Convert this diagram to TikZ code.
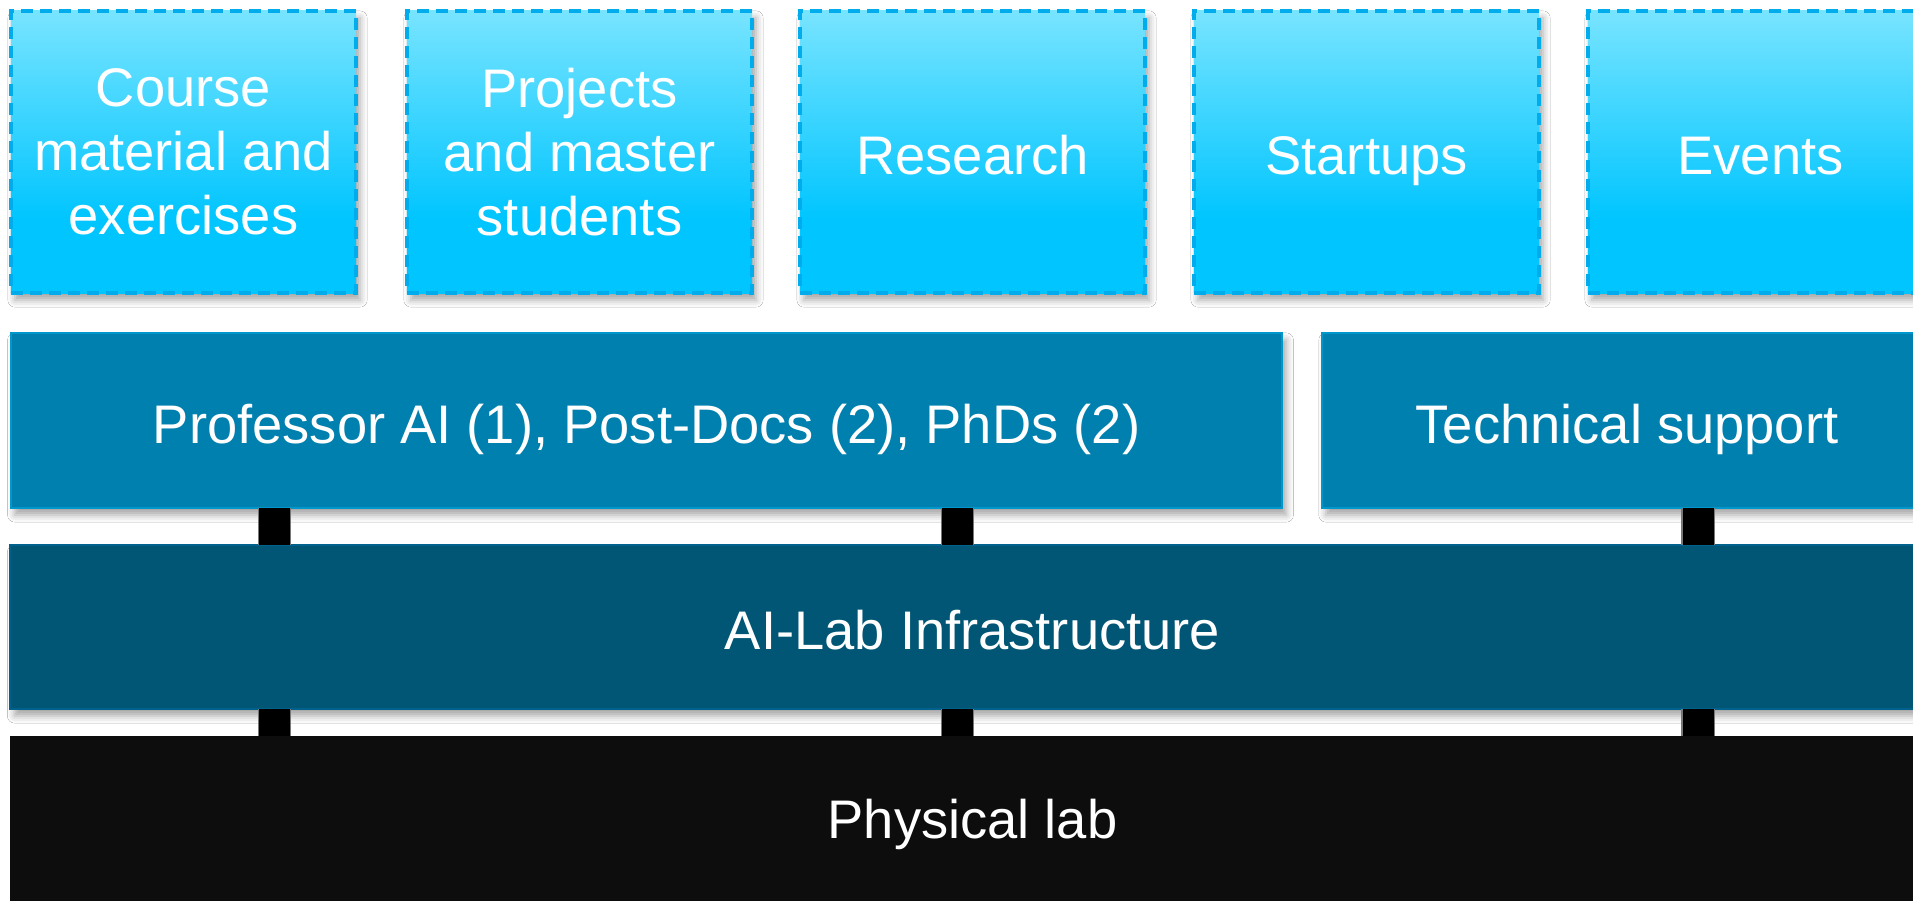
\documentclass[tikz,border=0pt]{standalone}
\usepackage{fontspec}
\setmainfont{Liberation Sans}
\usetikzlibrary{shadows.blur}
\definecolor{boxtop}{RGB}{120,228,255}
\definecolor{boxbot}{RGB}{0,197,255}
\definecolor{boxedge}{RGB}{0,172,236}
\definecolor{staff}{RGB}{0,128,174}
\definecolor{staffedge}{RGB}{0,152,204}
\definecolor{infra}{RGB}{0,86,116}
\definecolor{infraedge}{RGB}{0,98,140}
\definecolor{phys}{RGB}{13,13,13}
\definecolor{connedge}{RGB}{120,120,120}
\pgfdeclareverticalshading{topshade}{100bp}{color(0bp)=(boxbot); color(25bp)=(boxbot); color(38bp)=(boxbot); color(75bp)=(boxtop); color(100bp)=(boxtop)}
\tikzset{
  basebox/.style={rectangle, inner sep=0pt, outer sep=0pt, text=white, align=center,
    font=\fontsize{15.45}{18.2}\selectfont},
  oneline/.style={text height=16pt, text depth=3pt},
  softshadow/.style={blur shadow={shadow xshift=0.04cm, shadow yshift=-0.07cm, shadow blur radius=0.07cm, shadow opacity=35}},
  topbox/.style={basebox, minimum width=3.45cm, minimum height=2.82cm,
    shading=topshade, draw=boxedge, line width=0.035cm, dash pattern=on 0.12cm off 0.07cm, softshadow},
  staffbox/.style={basebox, oneline, minimum height=1.75cm, fill=staff, draw=staffedge, line width=0.02cm, softshadow},
  infrabox/.style={basebox, oneline, minimum width=19.23cm, minimum height=1.64cm, fill=infra, draw=infraedge, line width=0.02cm, softshadow},
  physbox/.style={basebox, text height=16pt, text depth=8.7pt, minimum width=19.23cm, minimum height=1.80cm, fill=phys},
  conn/.style={draw=connedge, line width=0.012cm, double=black, double distance=0.31cm, line cap=butt}
}
\begin{document}
\begin{tikzpicture}[x=0.01cm, y=-0.01cm]
\useasboundingbox (0,0) rectangle (1913,900);
\clip (0,0) rectangle (1913,900);
\fill[white] (0,0) rectangle (1913,900);
% top row
\node[topbox] (course) at (183.5,152) {Course\\material and\\exercises};
\node[topbox] (projects) at (579.5,152) {Projects\\and master\\students};
\node[topbox, oneline] (research) at (972.5,152) {Research};
\node[topbox, oneline] (startups) at (1366.5,152) {Startups};
\node[topbox, oneline] (events) at (1760.5,152) {Events};
% staff row
\node[staffbox, minimum width=12.71cm] (prof) at (646.5,420.5) {Professor AI (1), Post-Docs (2), PhDs (2)};
\node[staffbox, minimum width=6.10cm] (tech) at (1627,420.5) {Technical support};
% infrastructure
\node[infrabox] (ai) at (972.5,627) {AI-Lab Infrastructure};
\node[physbox] (phys) at (972.5,826) {Physical lab};
% connector columns
\coordinate (c1) at (274.5,0);
\coordinate (c2) at (957.5,0);
\coordinate (c3) at (1698,0);
\draw[conn] (prof.south -| c1) -- (ai.north -| c1);
\draw[conn] (prof.south -| c2) -- (ai.north -| c2);
\draw[conn] (tech.south -| c3) -- (ai.north -| c3);
\draw[conn] (ai.south -| c1) -- (phys.north -| c1);
\draw[conn] (ai.south -| c2) -- (phys.north -| c2);
\draw[conn] (ai.south -| c3) -- (phys.north -| c3);
\end{tikzpicture}
\end{document}
